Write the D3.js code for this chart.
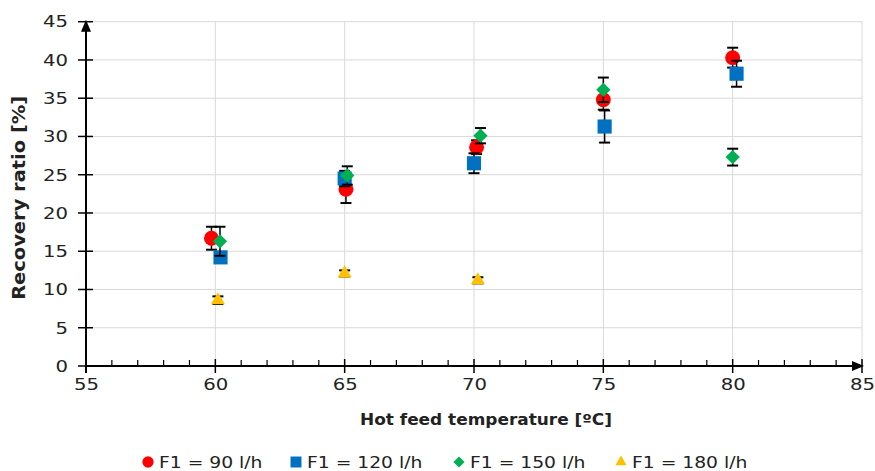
<!DOCTYPE html>
<html><head><meta charset="utf-8">
<script src="https://cdn.jsdelivr.net/npm/d3@7"></script>
<style>body{margin:0;background:#fff}svg{display:block}text{font-family:"DejaVu Sans",Verdana,sans-serif}</style>
</head><body><svg id="c" width="875" height="471"></svg>
<script>
const xTicks = [55,60,65,70,75,80,85];
const yTicks = [0,5,10,15,20,25,30,35,40,45];
const seriesNames = ["F1 = 90 l/h","F1 = 120 l/h","F1 = 150 l/h","F1 = 180 l/h"];
const seriesColors = ["#ff0000","#0070c0","#00b050","#ffc000"];
const seriesShapes = ["circle","square","diamond","triangle"];
const xF90 = [59.85,65.05,70.1,75.0,80.0];
const yF90 = [16.7,23.1,28.6,34.8,40.3];
const eF90 = [1.5,1.8,0.9,1.3,1.3];
const xF120 = [60.2,65.0,70.0,75.05,80.15];
const yF120 = [14.2,24.5,26.5,31.3,38.2];
const eF120 = [0.3,1.0,1.3,2.1,1.7];
const xF150 = [60.18,65.1,70.25,75.0,80.0];
const yF150 = [16.3,24.9,30.1,36.1,27.3];
const eF150 = [1.9,1.2,1.0,1.6,1.1];
const xF180 = [60.1,65.0,70.15];
const yF180 = [8.6,12.1,11.2];
const eF180 = [0.5,0.4,0.4];
const xs=[xF90,xF120,xF150,xF180], ys=[yF90,yF120,yF150,yF180], es=[eF90,eF120,eF150,eF180];

const svg = d3.select("#c");
const L=86,R=862,T=21.7,B=366;
const x = d3.scaleLinear().domain([55,85]).range([L,R]);
const y = d3.scaleLinear().domain([0,45]).range([B,T]);
const K = 1.19; // horizontal widening of text
function widen(sel,k){ sel.attr("textLength",function(){return this.getComputedTextLength()*k;}).attr("lengthAdjust","spacingAndGlyphs"); }

// gridlines
svg.append("g").selectAll("line").data(xTicks.filter(v=>v>55)).join("line")
  .attr("x1",d=>x(d)).attr("x2",d=>x(d)).attr("y1",T).attr("y2",B)
  .attr("stroke","#d9d9d9").attr("stroke-width",1);
svg.append("g").selectAll("line").data(yTicks.filter(v=>v>0)).join("line")
  .attr("x1",L).attr("x2",R).attr("y1",d=>y(d)).attr("y2",d=>y(d))
  .attr("stroke","#d9d9d9").attr("stroke-width",1);

// x axis
const xAx = d3.axisBottom(x).tickValues(xTicks).tickSize(0).tickPadding(12);
const gx = svg.append("g").attr("transform",`translate(0,${B})`).call(xAx);
gx.select(".domain").remove();
gx.selectAll("text").attr("font-size",16.5).attr("fill","#222").call(widen,K);
svg.append("g").selectAll("line").data(xTicks).join("line")
  .attr("x1",d=>x(d)).attr("x2",d=>x(d)).attr("y1",B-7).attr("y2",B+7)
  .attr("stroke","#000").attr("stroke-width",1.5);
svg.append("g").selectAll("line").data(d3.range(56,85).filter(v=>v%5!==0)).join("line")
  .attr("x1",d=>x(d)).attr("x2",d=>x(d)).attr("y1",B-6).attr("y2",B)
  .attr("stroke","#000").attr("stroke-width",1.2);
svg.append("line").attr("x1",L).attr("x2",R-4).attr("y1",B).attr("y2",B).attr("stroke","#000").attr("stroke-width",2);
svg.append("path").attr("d",`M${R+2},${B} L${R-10},${B-5} L${R-10},${B+5}Z`).attr("fill","#000");

// y axis
const yAx = d3.axisLeft(y).tickValues(yTicks).tickSize(0).tickPadding(18);
const gy = svg.append("g").attr("transform",`translate(${L},0)`).call(yAx);
gy.select(".domain").remove();
gy.selectAll("text").attr("font-size",16.5).attr("fill","#222").call(widen,K);
svg.append("g").selectAll("line").data(yTicks).join("line")
  .attr("x1",L-8).attr("x2",L+7).attr("y1",d=>y(d)).attr("y2",d=>y(d))
  .attr("stroke","#000").attr("stroke-width",1.5);
svg.append("line").attr("x1",L).attr("x2",L).attr("y1",B+7).attr("y2",T+4).attr("stroke","#000").attr("stroke-width",2);
svg.append("path").attr("d",`M${L},${T-2} L${L-5},${T+10} L${L+5},${T+10}Z`).attr("fill","#000");

// titles
svg.append("text").attr("x",486).attr("y",425).attr("text-anchor","middle")
  .attr("font-size",16).attr("font-weight","bold").attr("fill","#222")
  .attr("textLength",252).attr("lengthAdjust","spacingAndGlyphs").text("Hot feed temperature [ºC]");
svg.append("text").attr("transform",`translate(25,${(T+B)/2 + 4}) rotate(-90)`).attr("text-anchor","middle")
  .attr("font-size",17.5).attr("font-weight","bold").attr("fill","#222")
  .attr("textLength",204).attr("lengthAdjust","spacingAndGlyphs").text("Recovery ratio [%]");

const symType = {circle:d3.symbolCircle,square:d3.symbolSquare,diamond:d3.symbolDiamond2,triangle:d3.symbolTriangle2};
const symSize = {circle:175,square:200,diamond:130,triangle:140};

// series
xs.forEach((xv,si)=>{
  const pts = xv.map((v,i)=>({x:v,y:ys[si][i],e:es[si][i]}));
  const g = svg.append("g");
  const eb = g.selectAll("g.eb").data(pts).join("g");
  eb.append("line").attr("x1",d=>x(d.x)).attr("x2",d=>x(d.x)).attr("y1",d=>y(d.y-d.e)).attr("y2",d=>y(d.y+d.e)).attr("stroke","#000").attr("stroke-width",1.5);
  eb.append("line").attr("x1",d=>x(d.x)-5.5).attr("x2",d=>x(d.x)+5.5).attr("y1",d=>y(d.y+d.e)).attr("y2",d=>y(d.y+d.e)).attr("stroke","#000").attr("stroke-width",2);
  eb.append("line").attr("x1",d=>x(d.x)-5.5).attr("x2",d=>x(d.x)+5.5).attr("y1",d=>y(d.y-d.e)).attr("y2",d=>y(d.y-d.e)).attr("stroke","#000").attr("stroke-width",2);
  const sh = seriesShapes[si];
  g.selectAll("path").data(pts).join("path").attr("d",d3.symbol().type(symType[sh]).size(symSize[sh])())
    .attr("transform",d=>`translate(${x(d.x)},${y(d.y)})`).attr("fill",seriesColors[si]);
});

// legend
const legX=[148,296,459,621];
seriesNames.forEach((n,i)=>{
  const lg = svg.append("g").attr("transform",`translate(${legX[i]},462)`);
  const sh = seriesShapes[i];
  const sz = {circle:100,square:120,diamond:80,triangle:90}[sh];
  lg.append("path").attr("d",d3.symbol().type(symType[sh]).size(sz)()).attr("fill",seriesColors[i]);
  lg.append("text").attr("x",11).attr("y",6).attr("font-size",16).attr("fill","#222").text(n).call(widen,1.17);
});
</script></body></html>
